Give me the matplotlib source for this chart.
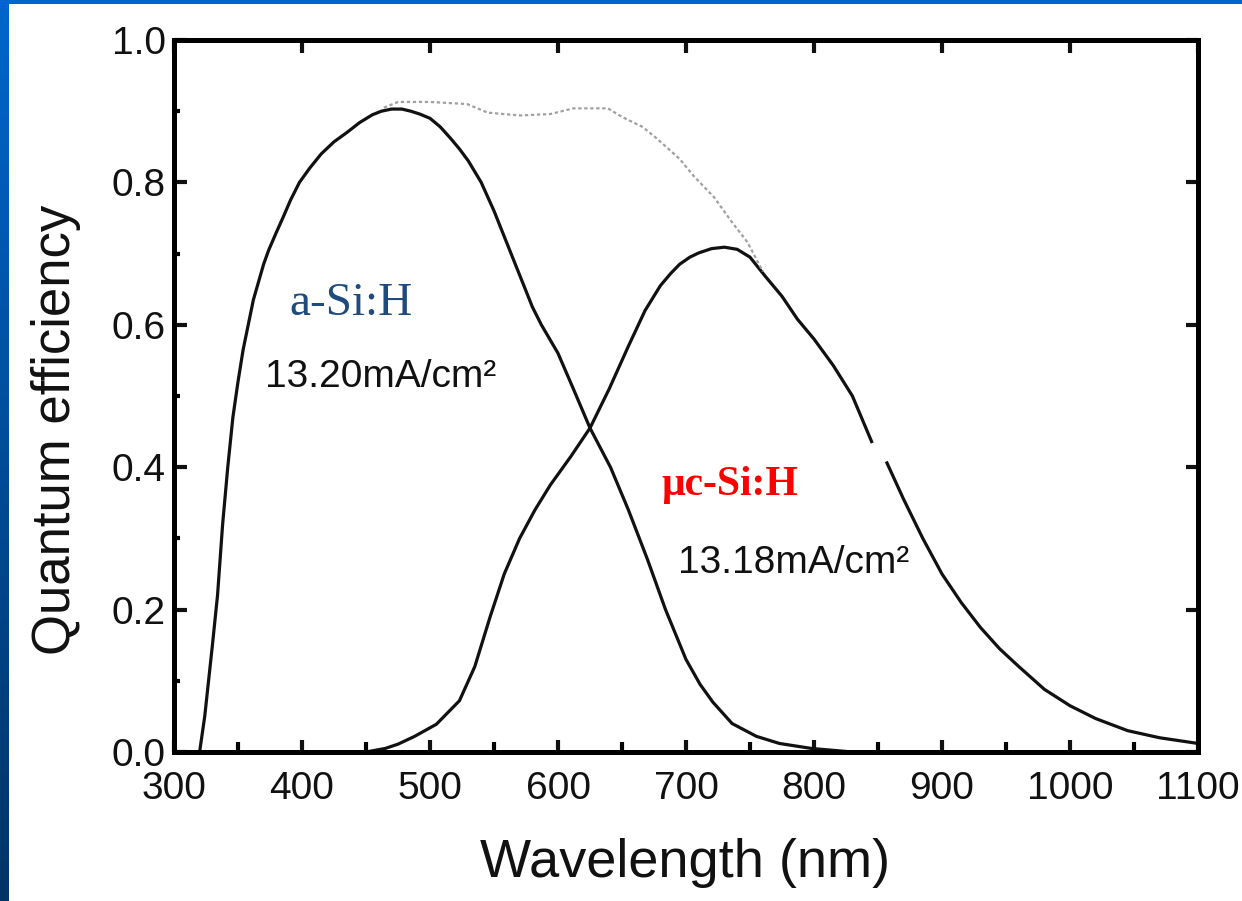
import matplotlib.pyplot as plt
import numpy as np
from matplotlib.colors import LinearSegmentedColormap

# quantum efficiency curves (wavelength in nm)
asi_wl = [320, 324, 327, 330, 334, 338, 342, 346, 350, 354, 358, 362, 366, 370, 374,
          380, 385, 391, 398, 406, 415, 425, 435, 445, 455, 462, 470, 478, 485, 492,
          500, 508, 516, 523, 530, 540, 550, 560, 570, 580, 587, 600, 612, 625, 641,
          655, 670, 684, 700, 711, 721, 736, 755, 773, 798, 830, 1100]
asi_qe = [0.0, 0.05, 0.10, 0.15, 0.22, 0.32, 0.40, 0.47, 0.52, 0.565, 0.60, 0.635, 0.66, 0.685, 0.705,
          0.73, 0.75, 0.775, 0.80, 0.82, 0.84, 0.857, 0.87, 0.884, 0.895, 0.90, 0.903, 0.903, 0.90, 0.896,
          0.89, 0.878, 0.862, 0.847, 0.83, 0.80, 0.76, 0.715, 0.67, 0.625, 0.60, 0.56, 0.51, 0.455, 0.40,
          0.34, 0.27, 0.20, 0.13, 0.095, 0.07, 0.04, 0.022, 0.012, 0.005, 0.0, 0.0]

muc_wl = [320, 450, 465, 475, 488, 505, 523, 535, 547, 558, 570, 582, 594, 610, 625,
          640, 655, 668, 680, 688, 695, 703, 710, 720, 730, 740, 750, 762, 775, 787,
          800, 815, 830, 845, 851, 857, 870, 885, 900, 915, 930, 945, 960, 980, 1000,
          1020, 1045, 1070, 1100]
muc_qe = [0.0, 0.0, 0.005, 0.011, 0.022, 0.039, 0.072, 0.12, 0.19, 0.25, 0.30, 0.34, 0.375, 0.415, 0.455,
          0.51, 0.57, 0.62, 0.655, 0.672, 0.685, 0.695, 0.701, 0.707, 0.709, 0.706, 0.695, 0.668, 0.64, 0.608,
          0.58, 0.543, 0.50, 0.436, np.nan, 0.406, 0.355, 0.30, 0.25, 0.21, 0.175, 0.145, 0.12, 0.088, 0.065,
          0.047, 0.03, 0.02, 0.012]

sum_wl = [464, 475, 500, 529, 545, 570, 594, 612, 639, 650, 666, 677, 695, 706, 722, 736, 748, 760]
sum_qe = [0.905, 0.913, 0.913, 0.91, 0.898, 0.894, 0.896, 0.904, 0.904, 0.892, 0.878, 0.862, 0.833,
          0.809, 0.779, 0.744, 0.716, 0.675]

W, H = 1242, 901
fig = plt.figure(figsize=(W/100, H/100), dpi=100)

# blue slide border on the left and top
strip = fig.add_axes([0, 0, 9/W, 1])
grad = np.linspace(0, 1, 256).reshape(-1, 1)
cm = LinearSegmentedColormap.from_list('slide', ['#0066CC', '#003466'])
strip.imshow(grad, aspect='auto', cmap=cm, extent=[0, 1, 0, 1], origin='upper')
strip.axis('off')
top = fig.add_axes([0, 1 - 4/H, 1, 4/H])
top.set_facecolor('#0066CC')
top.set_xticks([]); top.set_yticks([])
for s in top.spines.values():
    s.set_visible(False)

ax = fig.add_axes([174/W, 149/H, 1024/W, 712/H])
ax.plot(asi_wl, asi_qe, color='#111111', lw=2.3)
ax.plot(muc_wl, muc_qe, color='#111111', lw=2.3)
ax.plot(sum_wl, sum_qe, color='#a0a0a0', lw=1.6, linestyle=(0, (1.5, 1.2)))

ax.set_xlim(300, 1100)
ax.set_ylim(0, 1.0)
ax.set_xticks(np.arange(300, 1101, 100))
ax.set_xticks(np.arange(350, 1100, 100), minor=True)
ax.set_yticks(np.arange(0, 1.01, 0.2))
ax.set_yticks(np.arange(0.1, 1.0, 0.2), minor=True)
ax.set_yticklabels(['0.0', '0.2', '0.4', '0.6', '0.8', '1.0'])

for s in ax.spines.values():
    s.set_linewidth(3.6)
ax.tick_params(which='major', direction='in', length=9, width=3, top=True, right=True,
               labelsize=28, colors='#111111')
ax.tick_params(axis='x', which='major', pad=14)
ax.tick_params(axis='y', which='major', pad=6)
ax.tick_params(axis='x', which='minor', direction='in', length=7, width=3, top=False)
ax.tick_params(axis='y', which='minor', direction='in', length=4, width=3, right=False)
for lab in ax.get_xticklabels() + ax.get_yticklabels():
    lab.set_family('Liberation Sans')

ax.text(390.5, 0.614, 'a-Si:H', family='Liberation Serif', fontsize=34, color='#1F4A7E',
        va='baseline', ha='left')
ax.text(371, 0.513, '13.20mA/cm\u00b2', family='Liberation Sans', fontsize=28, color='#111111',
        va='baseline', ha='left')
ax.text(680.5, 0.361, '\u03bcc-Si:H', family='Liberation Serif', fontsize=30, fontweight='bold',
        color='#FF0000', va='baseline', ha='left')
ax.text(693.5, 0.251, '13.18mA/cm\u00b2', family='Liberation Sans', fontsize=28, color='#111111',
        va='baseline', ha='left')

fig.text(685/W, 24/H, 'Wavelength (nm)', family='Liberation Sans', fontsize=39,
         color='#111111', ha='center', va='baseline')
fig.text(56/W, 1 - 430/H, 'Quantum efficiency', family='Liberation Sans', fontsize=38,
         color='#111111', rotation=90, ha='center', va='center')

fig.savefig('out.png', dpi=100, facecolor='white')
